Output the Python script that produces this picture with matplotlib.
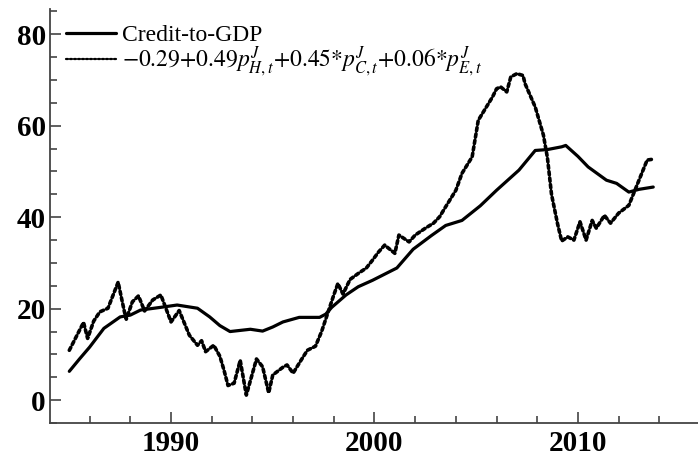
import matplotlib
matplotlib.use("Agg")
import matplotlib.pyplot as plt
from matplotlib.ticker import MultipleLocator

plt.rcParams["mathtext.fontset"] = "stix"
plt.rcParams["font.family"] = ["Liberation Serif", "DejaVu Serif"]

# Credit-to-GDP ratio (solid)
credit_years = [1985.0, 1985.5, 1986.0, 1986.7, 1987.5, 1988.0, 1988.5, 1989.5,
                1990.3, 1991.3, 1991.9, 1992.4, 1992.9, 1993.9, 1994.5, 1995.0,
                1995.5, 1996.3, 1997.3, 1997.6, 1997.9, 1998.6, 1999.2, 1999.9,
                2001.1, 2001.9, 2002.8, 2003.5, 2004.3, 2005.2, 2006.0, 2007.1,
                2007.9, 2008.5, 2009.2, 2009.4, 2010.0, 2010.5, 2011.4, 2011.9,
                2012.5, 2013.0, 2013.7]
credit_values = [6.3, 9.0, 11.6, 15.7, 18.2, 18.6, 19.7, 20.3,
                 20.8, 20.1, 18.2, 16.3, 15.0, 15.5, 15.1, 16.0,
                 17.1, 18.1, 18.1, 18.8, 20.3, 23.0, 24.8, 26.2,
                 28.9, 33.0, 36.0, 38.2, 39.3, 42.5, 45.9, 50.3,
                 54.6, 54.8, 55.4, 55.7, 53.3, 51.0, 48.1, 47.4,
                 45.5, 46.1, 46.6]

# Fitted combination of price indices (dotted)
fit_years = [1985.0, 1985.7, 1985.9, 1986.2, 1986.5, 1986.9, 1987.4, 1987.7,
             1987.8, 1988.1, 1988.4, 1988.7, 1989.1, 1989.5, 1990.0, 1990.4,
             1990.9, 1991.3, 1991.5, 1991.7, 1992.1, 1992.4, 1992.6, 1992.8,
             1993.1, 1993.4, 1993.7, 1994.2, 1994.5, 1994.8, 1995.0, 1995.5,
             1995.7, 1996.0, 1996.4, 1996.7, 1997.1, 1997.4, 1997.7, 1998.0,
             1998.2, 1998.45, 1998.8, 1999.2, 1999.6, 1999.9, 2000.2, 2000.5,
             2001.0, 2001.2, 2001.7, 2002.0, 2002.5, 2002.9, 2003.2, 2003.5,
             2004.0, 2004.3, 2004.8, 2005.1, 2005.8, 2006.0, 2006.2, 2006.5,
             2006.7, 2007.0, 2007.3, 2007.4, 2007.9, 2008.3, 2008.5, 2008.7,
             2009.0, 2009.2, 2009.5, 2009.8, 2010.1, 2010.4, 2010.7, 2010.9,
             2011.3, 2011.6, 2012.0, 2012.5, 2012.8, 2013.1, 2013.4, 2013.7]
fit_values = [10.9, 17.0, 13.5, 17.3, 19.3, 20.1, 25.8, 19.5,
              17.7, 21.5, 22.8, 19.5, 21.9, 23.0, 17.1, 19.6,
              14.2, 12.0, 13.0, 10.6, 12.0, 9.6, 6.6, 3.2,
              3.7, 8.7, 1.1, 9.0, 7.3, 1.6, 5.5, 7.2,
              7.7, 5.9, 8.8, 10.9, 11.8, 15.0, 19.0, 23.0,
              25.5, 23.2, 26.4, 27.7, 28.9, 30.6, 32.4, 33.9,
              32.1, 36.1, 34.6, 36.1, 37.6, 38.7, 40.1, 42.3,
              45.9, 49.6, 53.2, 61.2, 66.3, 68.1, 68.5, 67.4,
              70.7, 71.4, 71.0, 69.2, 64.1, 58.0, 53.0, 45.0,
              38.5, 34.8, 35.7, 35.0, 39.0, 35.0, 39.3, 37.6,
              40.4, 38.7, 40.9, 42.6, 45.9, 49.2, 52.5, 52.7]

fit_label = (r"$-0.29{+}0.49p^{J}_{H,t}{+}0.45{*}p^{J}_{C,t}"
             r"{+}0.06{*}p^{J}_{E,t}$")

fig = plt.figure(figsize=(6.98, 4.58), dpi=100)
ax = fig.add_axes([0.0716, 0.0764, 0.9284, 0.9036])

ax.plot(credit_years, credit_values, color="black", lw=2.3,
        solid_capstyle="round", label="Credit-to-GDP")
ax.plot(fit_years, fit_values, color="black", lw=2.6,
        linestyle=(0, (0.9, 0.9)), dash_capstyle="round", label=fit_label)

ax.set_xlim(1984.05, 2015.9)
ax.set_ylim(-5.0, 85.5)

ax.xaxis.set_major_locator(MultipleLocator(10))
ax.xaxis.set_minor_locator(MultipleLocator(2))
ax.yaxis.set_major_locator(MultipleLocator(20))
ax.yaxis.set_minor_locator(MultipleLocator(5))

ax.tick_params(which="both", direction="in", color="#444444", width=1.2)
ax.tick_params(which="major", length=8, labelsize=21)
ax.tick_params(axis="x", which="major", pad=5)
ax.tick_params(axis="y", which="major", pad=3)
ax.tick_params(which="minor", length=5)
for lab in ax.get_xticklabels() + ax.get_yticklabels():
    lab.set_fontweight("bold")

for side in ("top", "right"):
    ax.spines[side].set_visible(False)
for side in ("left", "bottom"):
    ax.spines[side].set_color("#444444")
    ax.spines[side].set_linewidth(1.3)

leg = ax.legend(loc="upper left", bbox_to_anchor=(0.02, 0.972), frameon=True,
                fontsize=17, handlelength=2.1, handletextpad=0.25,
                borderpad=0.15, labelspacing=-0.05, borderaxespad=0.0)
leg.get_frame().set_edgecolor("none")
leg.get_frame().set_facecolor("white")
leg.get_frame().set_alpha(1.0)
leg.get_lines()[1].set_linewidth(1.6)

fig.savefig("out.png", dpi=100)
